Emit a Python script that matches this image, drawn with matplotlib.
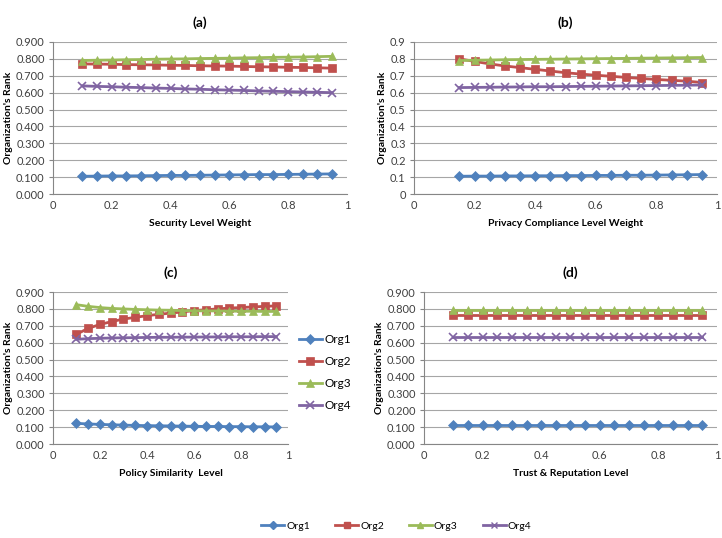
# Recreation of the four-panel organization rank chart
import matplotlib.pyplot as plt
from matplotlib.lines import Line2D
import numpy as np

plt.rcParams['font.family'] = ['Lato', 'DejaVu Sans']

# x values
x_acd = [0.10, 0.15, 0.20, 0.25, 0.30, 0.35, 0.40, 0.45, 0.50,
         0.55, 0.60, 0.65, 0.70, 0.75, 0.80, 0.85, 0.90, 0.95]
x_b = x_acd[1:]

# (a) Security Level Weight
a_org1 = [0.105, 0.106, 0.107, 0.107, 0.108, 0.109, 0.110, 0.110, 0.111,
          0.112, 0.113, 0.114, 0.115, 0.115, 0.116, 0.117, 0.118, 0.119]
a_org2 = [0.770, 0.769, 0.768, 0.766, 0.765, 0.764, 0.762, 0.761, 0.759,
          0.758, 0.757, 0.755, 0.753, 0.752, 0.750, 0.749, 0.747, 0.745]
a_org3 = [0.790, 0.792, 0.793, 0.795, 0.796, 0.798, 0.799, 0.800, 0.802,
          0.803, 0.804, 0.806, 0.807, 0.809, 0.810, 0.811, 0.813, 0.815]
a_org4 = [0.640, 0.637, 0.635, 0.632, 0.630, 0.627, 0.625, 0.622, 0.620,
          0.617, 0.615, 0.613, 0.610, 0.608, 0.606, 0.604, 0.602, 0.600]

# (b) Privacy Compliance Level Weight
b_org1 = [0.105, 0.106, 0.106, 0.107, 0.107, 0.108, 0.108, 0.109, 0.109,
          0.110, 0.110, 0.111, 0.111, 0.112, 0.113, 0.114, 0.115]
b_org2 = [0.800, 0.785, 0.770, 0.758, 0.748, 0.738, 0.728, 0.718, 0.710,
          0.703, 0.697, 0.690, 0.684, 0.678, 0.673, 0.668, 0.660]
b_org3 = [0.790, 0.792, 0.793, 0.795, 0.796, 0.797, 0.798, 0.799, 0.800,
          0.801, 0.802, 0.803, 0.804, 0.805, 0.806, 0.807, 0.808]
b_org4 = [0.630, 0.631, 0.632, 0.633, 0.634, 0.635, 0.635, 0.636, 0.637,
          0.638, 0.639, 0.640, 0.641, 0.642, 0.643, 0.644, 0.645]

# (c) Policy Similarity Level
c_org1 = [0.122, 0.119, 0.116, 0.114, 0.112, 0.110, 0.109, 0.108, 0.107,
          0.106, 0.105, 0.104, 0.104, 0.103, 0.103, 0.102, 0.102, 0.101]
c_org2 = [0.650, 0.685, 0.708, 0.725, 0.740, 0.750, 0.760, 0.768, 0.775,
          0.782, 0.790, 0.795, 0.800, 0.805, 0.808, 0.812, 0.815, 0.818]
c_org3 = [0.825, 0.815, 0.808, 0.803, 0.800, 0.797, 0.795, 0.793, 0.792,
          0.790, 0.789, 0.788, 0.788, 0.787, 0.786, 0.786, 0.785, 0.785]
c_org4 = [0.620, 0.624, 0.626, 0.628, 0.629, 0.630, 0.631, 0.632, 0.632,
          0.633, 0.633, 0.634, 0.634, 0.635, 0.635, 0.635, 0.636, 0.636]

# (d) Trust & Reputation Level
d_org1 = [0.110] * 18
d_org2 = [0.765] * 18
d_org3 = [0.795] * 18
d_org4 = [0.632] * 18

labels = ['Org1', 'Org2', 'Org3', 'Org4']
colors = ['#4F81BD', '#C0504D', '#9BBB59', '#8064A2']
markers = ['D', 's', '^', 'x']
msizes = [5, 6, 6, 6]

panels = [
    ('(a)', 'Security Level Weight', x_acd, [a_org1, a_org2, a_org3, a_org4],
     [0.0734, 0.6394, 0.407, 0.2826], '%.3f'),
    ('(b)', 'Privacy Compliance Level Weight', x_b, [b_org1, b_org2, b_org3, b_org4],
     [0.5734, 0.6394, 0.4197, 0.2826], '%g'),
    ('(c)', 'Policy Similarity  Level', x_acd, [c_org1, c_org2, c_org3, c_org4],
     [0.0734, 0.1747, 0.3255, 0.2825], '%.3f'),
    ('(d)', 'Trust & Reputation Level', x_acd, [d_org1, d_org2, d_org3, d_org4],
     [0.5873, 0.1747, 0.4057, 0.2825], '%.3f'),
]

fig = plt.figure(figsize=(7.22, 5.38), dpi=100)

axes = []
for title, xlabel, xs, series, pos, fmt in panels:
    ax = fig.add_axes(pos)
    for ys, lab, c, m, ms in zip(series, labels, colors, markers, msizes):
        ax.plot(xs, ys, color=c, marker=m, markersize=ms, linewidth=2,
                markeredgewidth=1.2 if m == 'x' else 0.5, label=lab, zorder=3)
    ax.set_xlim(0, 1)
    ax.set_ylim(0, 0.9)
    ax.set_xticks([0, 0.2, 0.4, 0.6, 0.8, 1])
    ax.set_xticklabels(['0', '0.2', '0.4', '0.6', '0.8', '1'])
    yt = np.arange(0, 0.91, 0.1)
    ax.set_yticks(yt)
    if fmt == '%g':
        ax.set_yticklabels(['%g' % round(v, 1) for v in yt])
    else:
        ax.set_yticklabels([fmt % v for v in yt])
    ax.grid(axis='y', color='#A6A6A6', linewidth=0.8)
    ax.set_axisbelow(True)
    for s in ['top', 'right']:
        ax.spines[s].set_visible(False)
    ax.spines['left'].set_color('#868686')
    ax.spines['bottom'].set_color('#868686')
    ax.tick_params(axis='both', labelsize=8, length=0, pad=4, colors='#404040')
    ax.tick_params(axis='y', length=3, color='#868686', pad=3)
    ax.set_xlabel(xlabel, fontsize=7.5, fontweight='bold', labelpad=6)
    ax.set_ylabel("Organization's Rank", fontsize=7.5, fontweight='bold', labelpad=2)
    ax.set_title(title, fontsize=10, fontweight='bold', pad=11)
    axes.append(ax)

# legend beside panel (c)
axes[2].legend(loc='center left', bbox_to_anchor=(1.0, 0.47), frameon=False,
               fontsize=8.5, handlelength=2.0, labelspacing=0.95, handletextpad=0.2)

# legend at the bottom
handles = [Line2D([], [], color=c, marker=m, markersize=4, linewidth=2)
           for c, m in zip(colors, markers)]
fig.legend(handles, labels, loc='center', bbox_to_anchor=(0.549, 0.022), ncol=4,
           frameon=False, fontsize=7.5, handlelength=2.2, columnspacing=2.4,
           handletextpad=0.2)

fig.savefig('out.png', dpi=100)
